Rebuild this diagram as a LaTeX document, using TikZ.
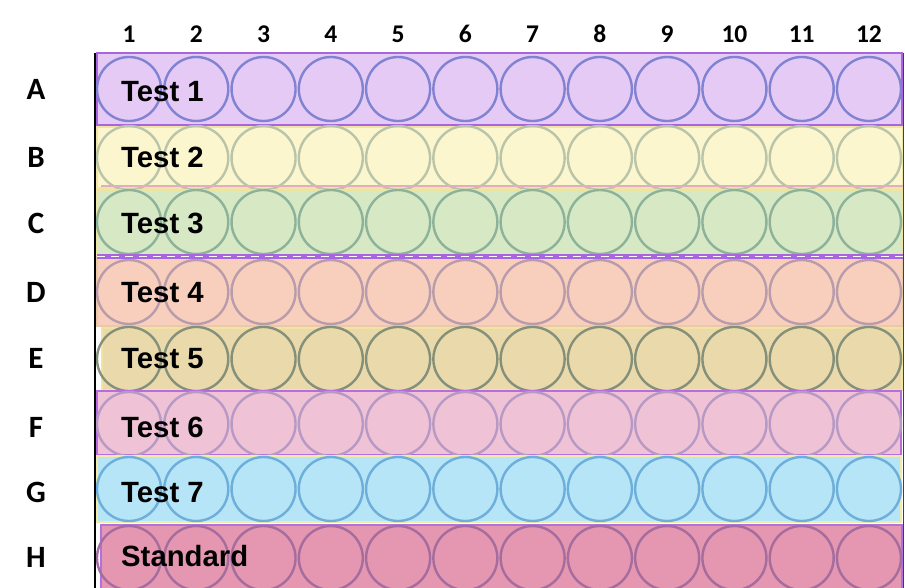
\documentclass[tikz,border=0pt]{standalone}
\usepackage{fontspec}
\setmainfont{Liberation Sans}
\newfontfamily\labfont{Carlito}
\definecolor{fillA}{HTML}{E6CAF6}\definecolor{bordA}{HTML}{A865DD}\definecolor{wellA}{HTML}{8082D2}
\definecolor{fillB}{HTML}{FBF6CE}\definecolor{bordB}{HTML}{F1E5A5}\definecolor{wellB}{HTML}{B9C4A8}
\definecolor{fillC}{HTML}{D6E8C4}\definecolor{bordC}{HTML}{EDE3A2}\definecolor{wellC}{HTML}{8DB29A}
\definecolor{fillD}{HTML}{F7CFBC}\definecolor{bordD}{HTML}{E9C9A8}\definecolor{wellD}{HTML}{B99CAB}
\definecolor{fillE}{HTML}{EAD9AA}\definecolor{bordE}{HTML}{F2E4A0}\definecolor{wellE}{HTML}{84907A}
\definecolor{fillF}{HTML}{F0C2D5}\definecolor{bordF}{HTML}{B76DDF}\definecolor{wellF}{HTML}{B69AC5}
\definecolor{fillG}{HTML}{B5E5F7}\definecolor{bordG}{HTML}{F2EBA8}\definecolor{wellG}{HTML}{6EAEDA}
\definecolor{fillH}{HTML}{E596B0}\definecolor{bordH}{HTML}{B070E0}\definecolor{wellH}{HTML}{A46D9E}
\definecolor{plum}{HTML}{A865DD}
\definecolor{pinkline}{HTML}{E2AEBF}
\begin{document}
\begin{tikzpicture}[x=1pt,y=-1pt,
  band/.style={draw, line width=1.6pt, inner sep=0pt, outer sep=0pt, anchor=north west},
  well/.style={circle, draw, line width=2.4pt, minimum size=64pt, inner sep=0pt},
  testlbl/.style={anchor=base west, font=\fontsize{29.3}{30}\selectfont\bfseries, inner sep=0pt},
  collbl/.style={anchor=base, font=\labfont\fontsize{25.5}{26}\selectfont\bfseries, inner sep=0pt},
  rowlbl/.style={anchor=base, font=\labfont\fontsize{31}{32}\selectfont\bfseries, inner sep=0pt}]
\useasboundingbox (0,0) rectangle (905,588);
\clip (0,0) rectangle (905,588);
\fill[white] (0,0) rectangle (905,588);
% bands and wells
\foreach \r/\top/\bot/\lft/\rgt/\cy/\txt/\ty in {
  A/53/125/97/902/89/Test 1/102,
  B/127/188/97/903/158/Test 2/168,
  C/190/255/97/902/222/Test 3/234,
  D/257/326/97/903/292/Test 4/302,
  E/328/390/102/902/359/Test 5/368,
  F/391/455/97/901/424/Test 6/437,
  G/456/522/97/901/489/Test 7/502,
  H/525/598/101/902/558/Standard/566}{
  \pgfmathsetmacro{\w}{\rgt-\lft}
  \pgfmathsetmacro{\h}{\bot-\top}
  \node[band, fill=fill\r, draw=bord\r, minimum width=\w pt, minimum height=\h pt] (band\r) at (\lft,\top) {};
  \foreach \c in {1,...,12}{
    \node[well, draw=well\r] (w\r\c) at ({129+67.27*(\c-1)},\cy) {};
  }
  \node[testlbl] (t\r) at (121,\ty) {\txt};
}
% accent lines between bands
\draw[pinkline, line width=1.2pt] (bandB.south west) ++(4,-2) coordinate (pb1) -- (pb1 -| bandB.south east);
\draw[plum, line width=5pt] (bandD.north west) ++(0,-0.5) coordinate (pd1) -- (pd1 -| bandD.north east);
\draw[white, line width=0.8pt, dash pattern=on 8pt off 6pt] (pd1) -- (pd1 -| bandD.north east);
% plate edges
\coordinate (ptl) at (95,53);
\coordinate (pbl) at (95,588);
\draw[black, line width=2.6pt] (ptl) -- (pbl);
\coordinate (ptr) at (903,53);
\coordinate (pbr) at (903,588);
\draw[black!75, line width=1pt] (ptr) -- (pbr);
% column numbers
\foreach \c in {1,...,12}{
  \node[collbl] (col\c) at ({129+67.27*(\c-1)},43) {\c};
}
% row letters
\foreach \r/\y in {A/100,B/168,C/234,D/302,E/368,F/437,G/502,H/567}{
  \node[rowlbl] (row\r) at (36,\y) {\r};
}
\end{tikzpicture}
\end{document}
